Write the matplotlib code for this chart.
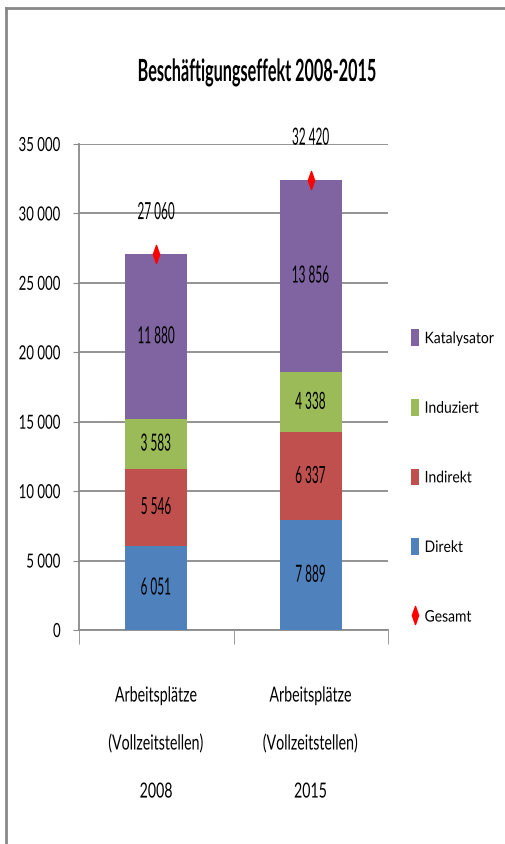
#!/usr/bin/env python3
"""
Stacked bar chart: Beschäftigungseffekt 2008-2015.
"""

import matplotlib
matplotlib.use("Agg")
import matplotlib.pyplot as plt
from matplotlib.lines import Line2D
from matplotlib.patches import Patch
from matplotlib.path import Path
from matplotlib.patheffects import AbstractPathEffect

plt.rcParams['font.family'] = ['Lato', 'DejaVu Sans']

# data
categories = ["Arbeitsplätze\n(Vollzeitstellen)\n2008",
              "Arbeitsplätze\n(Vollzeitstellen)\n2015"]
series_names = ["Direkt", "Indirekt", "Induziert", "Katalysator"]
direkt = [6051, 7889]
indirekt = [5546, 6337]
induziert = [3583, 4338]
katalysator = [11880, 13856]
gesamt = [27060, 32420]
yticks = [0, 5000, 10000, 15000, 20000, 25000, 30000, 35000]

colors = ["#4F81BD", "#C0504D", "#9BBB59", "#8064A2"]
GRID = '#8a8a8a'

# thin vertical diamond used for the totals
DIAMOND = Path([(0, 1), (0.35, 0), (0, -1), (-0.35, 0), (0, 1)],
               [Path.MOVETO, Path.LINETO, Path.LINETO, Path.LINETO, Path.CLOSEPOLY])


class Squeeze(AbstractPathEffect):
    """Draw text narrower (the original chart uses a condensed look)."""

    def __init__(self, sx, anchor='center'):
        super().__init__()
        self.sx = sx
        self.anchor = anchor

    def draw_path(self, renderer, gc, tpath, affine, rgbFace=None):
        v = tpath.vertices.copy()
        if len(v):
            lo, hi = v[:, 0].min(), v[:, 0].max()
            a = {'left': lo, 'center': (lo + hi) / 2, 'right': hi}[self.anchor]
            v[:, 0] = a + (v[:, 0] - a) * self.sx
        renderer.draw_path(gc, Path(v, tpath.codes), affine, rgbFace)


def fmt(v):
    return f"{v:,}".replace(",", " ")


def main():
    fig = plt.figure(figsize=(5.05, 8.45), dpi=100)
    ax = fig.add_axes([79 / 505, 214 / 845, 309 / 505, 486 / 845])

    x = list(range(len(categories)))
    bottom = [0] * len(categories)
    for name, vals, col in zip(series_names, [direkt, indirekt, induziert, katalysator], colors):
        ax.bar(x, vals, width=0.4, bottom=bottom, color=col, zorder=3)
        for xi, b, v in zip(x, bottom, vals):
            ax.text(xi, b + v / 2, fmt(v), ha='center', va='center', fontsize=17, zorder=4,
                    path_effects=[Squeeze(0.5)])
        bottom = [b + v for b, v in zip(bottom, vals)]

    # totals: red diamond + label above
    ax.plot(x, gesamt, linestyle='none', marker=DIAMOND, color='red', markersize=13, zorder=5)
    for xi, v in zip(x, gesamt):
        ax.annotate(fmt(v), (xi, v), xytext=(0, 30), textcoords='offset points',
                    ha='center', va='center', fontsize=17, path_effects=[Squeeze(0.5)])

    ax.set_xlim(-0.5, 1.5)
    ax.set_ylim(0, 35000)
    ax.set_yticks(yticks)
    ax.set_yticklabels([fmt(t) for t in yticks], fontsize=14)
    for t in ax.get_yticklabels():
        t.set_path_effects([Squeeze(0.68, 'right')])
    ax.yaxis.grid(True, color=GRID, linewidth=1.3, zorder=0)
    ax.tick_params(axis='y', length=4, color=GRID, pad=9)

    ax.set_xticks(x)
    ax.set_xticklabels(categories, fontsize=15, linespacing=2.75)
    for t in ax.get_xticklabels():
        t.set_path_effects([Squeeze(0.68)])
    ax.set_xticks([-0.5, 0.5, 1.5], minor=True)
    ax.tick_params(axis='x', which='major', length=0, pad=40)
    ax.tick_params(axis='x', which='minor', length=10, color=GRID)

    for s in ['top', 'right']:
        ax.spines[s].set_visible(False)
    for s in ['left', 'bottom']:
        ax.spines[s].set_color(GRID)
        ax.spines[s].set_linewidth(1.3)

    fig.text(257 / 505, 1 - 73 / 845, "Beschäftigungseffekt 2008-2015",
             ha='center', va='center', fontsize=22, fontweight='bold',
             path_effects=[Squeeze(0.53)])

    # legend, reversed order as in the reference
    handles = [Patch(facecolor=c) for c in colors[::-1]]
    handles.append(Line2D([], [], linestyle='none', marker=DIAMOND, color='red', markersize=13))
    labels = series_names[::-1] + ["Gesamt"]
    leg = fig.legend(handles, labels, loc='center left', bbox_to_anchor=(411 / 505, 1 - 478 / 845),
                     frameon=False, fontsize=11.5, labelspacing=3.3, handlelength=0.5,
                     handleheight=1.25, handletextpad=0.35, borderaxespad=0, borderpad=0)
    for t in leg.get_texts():
        t.set_path_effects([Squeeze(0.87, 'left')])

    # outer frame (only top and left edges are inside the picture)
    fig.add_artist(Line2D([6 / 505, 6 / 505], [0, 1 - 9 / 845], color='#888888', linewidth=2))
    fig.add_artist(Line2D([6 / 505, 1], [1 - 9 / 845, 1 - 9 / 845], color='#888888', linewidth=2))

    fig.savefig('out.png', dpi=100)


if __name__ == "__main__":
    main()
